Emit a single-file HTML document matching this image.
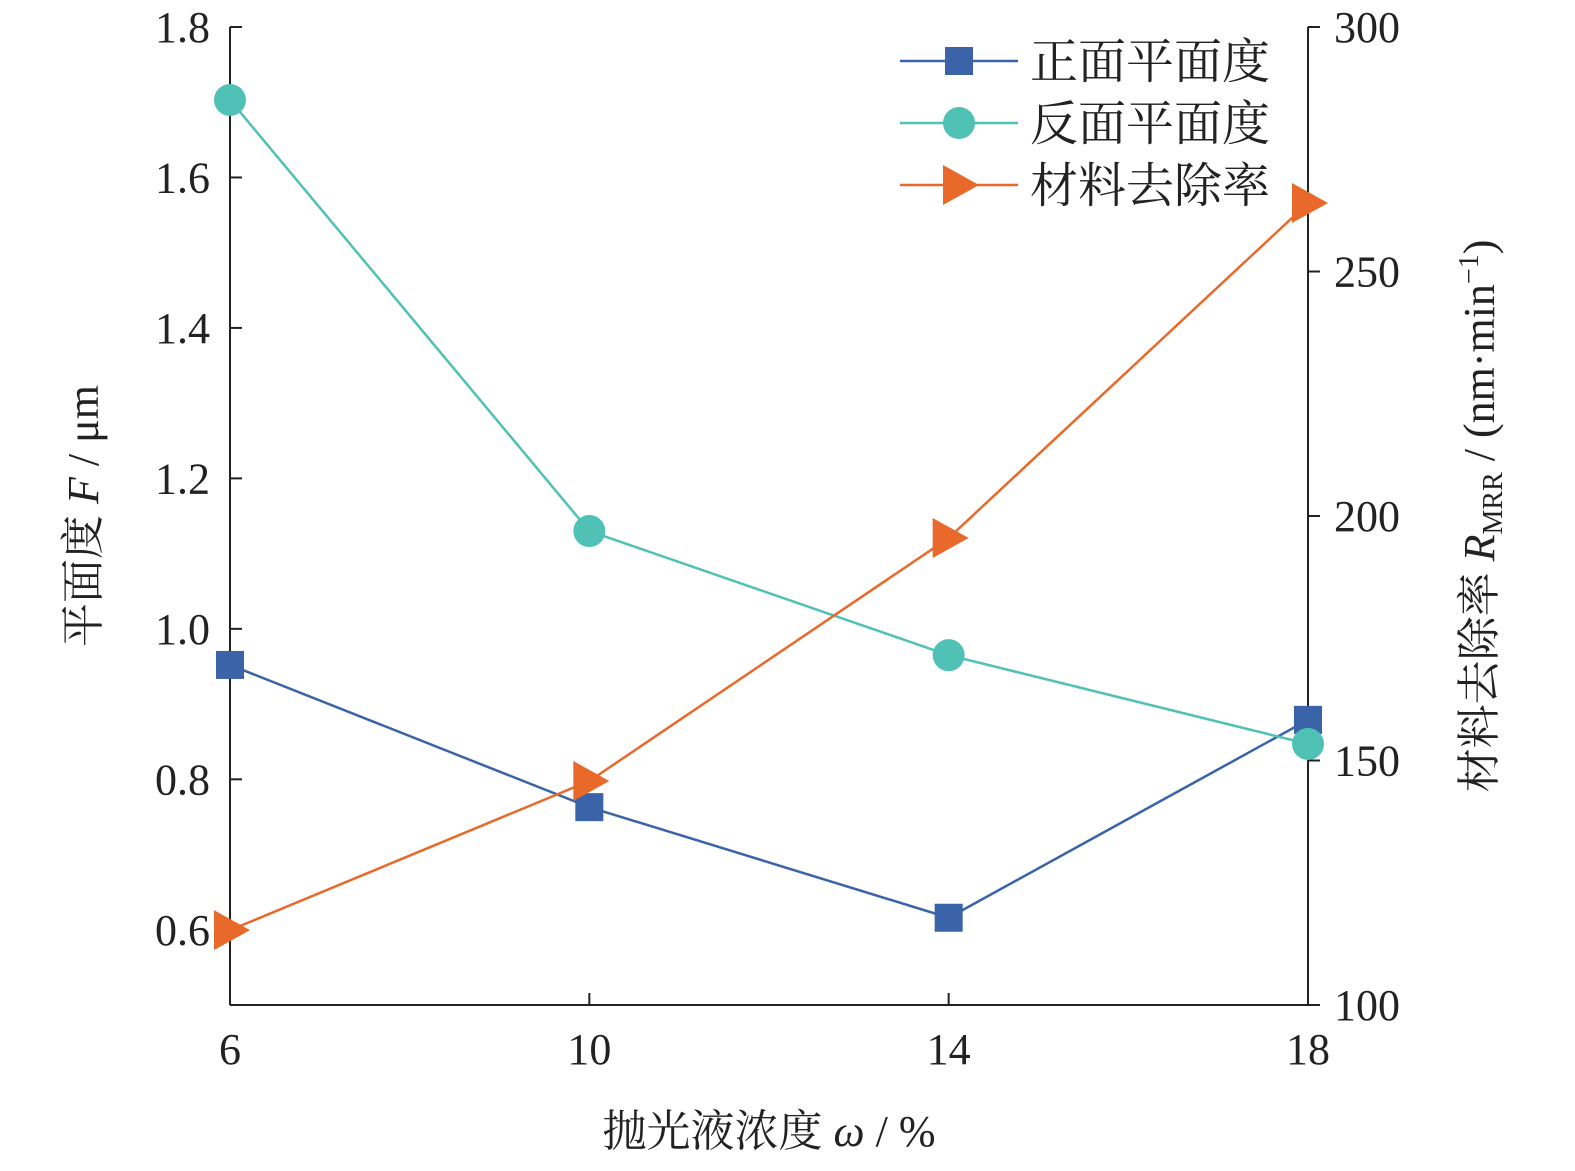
<!DOCTYPE html>
<html><head><meta charset="utf-8"><style>
body{margin:0;background:#fff}
svg text{font-family:"Liberation Serif","Noto Serif CJK SC",serif;fill:#222}
</style></head><body>
<svg id="chart" width="1575" height="1166" xmlns="http://www.w3.org/2000/svg">
<g id="axes"></g>
<g id="series"></g>
<g id="legend"></g>
</svg>
<script>
const categories=[6,10,14,18];
const frontFlatness=[0.952,0.763,0.616,0.879];
const backFlatness=[1.703,1.130,0.965,0.847];
const removalRate=[115.3,145.8,195.5,264];
const leftTicks=["0.6","0.8","1.0","1.2","1.4","1.6","1.8"];
const rightTicks=["100","150","200","250","300"];
const xTicks=["6","10","14","18"];

const NS="http://www.w3.org/2000/svg";
const X0=230,X1=1308,YT=27,YB=1005;
const xs=v=>X0+(v-6)/12*(X1-X0);
const yl=v=>YT+(1.8-v)/1.3*(YB-YT);
const yr=v=>YT+(300-v)/200*(YB-YT);
function mk(tag,attrs,parent,text){const e=document.createElementNS(NS,tag);for(const k in attrs)e.setAttribute(k,attrs[k]);if(text!==undefined)e.textContent=text;parent.appendChild(e);return e;}
const axes=document.getElementById('axes'),series=document.getElementById('series'),legend=document.getElementById('legend');

let a=mk('line',{x1:X0,y1:YT,x2:X0,y2:YB,stroke:'#222','stroke-width':2},axes);

a=mk('line',{x1:X1,y1:YT,x2:X1,y2:YB,stroke:'#222','stroke-width':2},axes);

a=mk('line',{x1:X0,y1:YB,x2:X1,y2:YB,stroke:'#222','stroke-width':2},axes);


leftTicks.forEach(t=>{const y=yl(parseFloat(t));
 mk('line',{x1:X0,y1:y,x2:X0+12,y2:y,stroke:'#222','stroke-width':2},axes);
 const e=mk('text',{x:X0-20,y:y+15,'text-anchor':'end','font-size':44},axes,t);
 });
rightTicks.forEach(t=>{const y=yr(parseFloat(t));
 mk('line',{x1:X1,y1:y,x2:X1+12,y2:y,stroke:'#222','stroke-width':2},axes);
 const e=mk('text',{x:X1+26,y:y+15,'text-anchor':'start','font-size':44},axes,t);
 });
xTicks.forEach(t=>{const x=xs(parseFloat(t));
 mk('line',{x1:x,y1:YB,x2:x,y2:YB-12,stroke:'#222','stroke-width':2},axes);
 const e=mk('text',{x:x,y:1064,'text-anchor':'middle','font-size':44},axes,t);
 });

let tt=mk('text',{x:769,y:1146,'text-anchor':'middle','font-size':44},axes);

tt.innerHTML='抛光液浓度 <tspan font-style="italic">ω</tspan> / %';
tt=mk('text',{transform:'translate(98,516) rotate(-90)','text-anchor':'middle','font-size':44},axes);

tt.innerHTML='平面度 <tspan font-style="italic">F</tspan> / μm';
tt=mk('text',{transform:'translate(1494,516) rotate(-90)','text-anchor':'middle','font-size':44},axes);

tt.innerHTML='材料去除率 <tspan font-style="italic">R</tspan><tspan font-size="28" dy="8">MRR</tspan><tspan dy="-8"> / (nm·min</tspan><tspan font-size="28" dy="-16">−1</tspan><tspan dy="16">)</tspan>';

function marker(type,x,y,color,parent){
 if(type==='sq')return mk('rect',{x:x-14,y:y-14,width:28,height:28,fill:color},parent);
 if(type==='ci')return mk('circle',{cx:x,cy:y,r:16,fill:color},parent);
 return mk('polygon',{points:`${x-16},${y-20} ${x-16},${y+20} ${x+20},${y}`,fill:color},parent);
}
const defs=[
 {vals:frontFlatness,sc:yl,color:'#3a63a8',type:'sq',name:'front-flatness',label:'正面平面度'},
 {vals:backFlatness,sc:yl,color:'#4fc1b5',type:'ci',name:'back-flatness',label:'反面平面度'},
 {vals:removalRate,sc:yr,color:'#e8692a',type:'tr',name:'removal-rate',label:'材料去除率'}];
defs.forEach((d,i)=>{
 const g=mk('g',{},series);
 
 const pts=d.vals.map((v,j)=>xs(categories[j])+','+d.sc(v)).join(' ');
 const l=mk('polyline',{points:pts,fill:'none',stroke:d.color,'stroke-width':2.5},g);
 
 d.vals.forEach((v,j)=>{const m=marker(d.type,xs(categories[j]),d.sc(v),d.color,g);
  });
 const ly=61+i*62;
 const lg=mk('g',{},legend);
 
 mk('line',{x1:900,y1:ly,x2:1018,y2:ly,stroke:d.color,'stroke-width':2.5},lg);
 marker(d.type,959,ly,d.color,lg);
 mk('text',{x:1030,y:ly+17,'font-size':48},lg,d.label);
});
</script>
</body></html>
